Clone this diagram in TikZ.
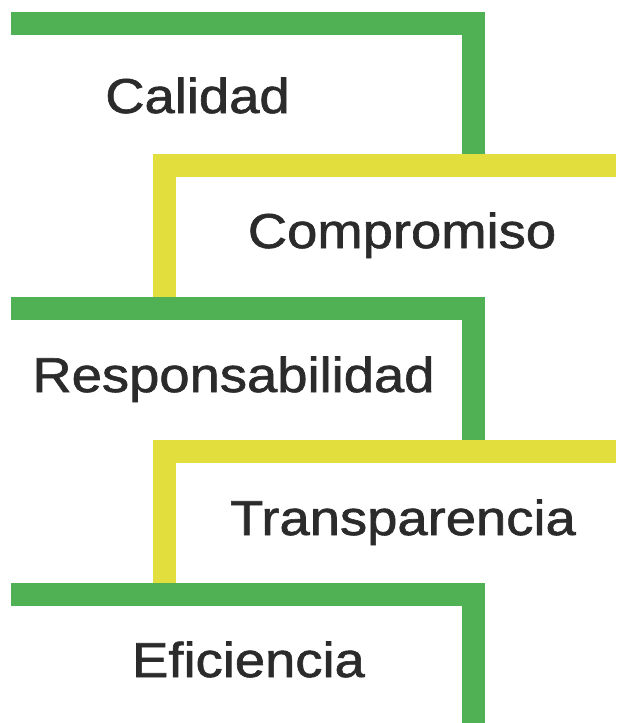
\documentclass[tikz,border=0pt]{standalone}
\usepackage{fontspec}
\setmainfont{Liberation Sans}
\newfontfamily\wordfont{Liberation Sans}[FakeBold=1.2]
\definecolor{bandgreen}{RGB}{80,177,84}
\definecolor{bandyellow}{RGB}{226,222,62}
\definecolor{labelgray}{RGB}{43,43,43}
\tikzset{
  band/.style={line width=23pt, miter limit=10},
  word/.style={anchor=base, inner sep=0pt, text=labelgray, xscale=1.11,
    font=\wordfont\fontsize{49}{58}\selectfont},
}
\begin{document}
\begin{tikzpicture}[x=1pt, y=-1pt]
      \useasboundingbox (0,0) rectangle (616,723);
      % green steps
      \foreach \y/\e in{12/154, 297/440, 582.5/723}{%
        \draw[band, color=bandgreen](11,\y+11.5)--(473.5,\y+11.5)--(473.5,\e);
      }
      % yellow steps
      \foreach \y/\e in{154/297, 440/582.5}{%
        \draw[band, color=bandyellow](616,\y+11.5)--(164,\y+11.5)--(164,\e);
      }
      \node[word] (calidad) at (197.5,113) {Calidad};
      \node[word] (compromiso) at (402,248) {Compromiso};
      \node[word] (responsabilidad) at (233.5,392) {Responsabilidad};
      \node[word] (transparencia) at (403,535) {Transparencia};
      \node[word] (eficiencia) at (248.5,677) {Eficiencia};
    \end{tikzpicture}
\end{document}
